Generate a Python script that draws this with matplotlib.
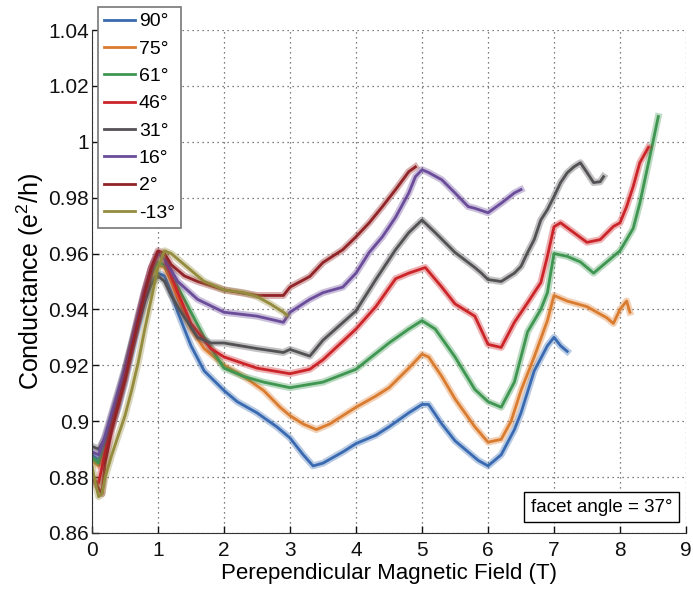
import matplotlib
matplotlib.use("Agg")
import matplotlib.pyplot as plt

plt.rcParams["font.family"] = ["Liberation Sans", "DejaVu Sans"]
plt.rcParams["mathtext.fontset"] = "custom"
plt.rcParams["mathtext.rm"] = "Liberation Sans"
plt.rcParams["mathtext.it"] = "Liberation Sans"

# Conductance vs perpendicular field, one trace per tilt angle
labels = ["90°", "75°", "61°", "46°", "31°", "16°", "2°", "-13°"]
colors = ["#396AB1", "#DA7C30", "#3E9651", "#CC2529",
          "#535154", "#6B4C9A", "#922428", "#948B3D"]

b_90 = [0, 0.1, 0.2, 0.3, 0.4, 0.5, 0.6, 0.7, 0.8, 0.9, 1.0, 1.1, 1.2, 1.3, 1.5, 1.7,
        2.0, 2.2, 2.5, 2.8, 3.0, 3.2, 3.35, 3.5, 3.8, 4.0, 4.3, 4.5, 4.8, 5.0, 5.1,
        5.3, 5.5, 5.7, 5.85, 6.0, 6.2, 6.4, 6.5, 6.7, 6.9, 7.0, 7.1, 7.2]
g_90 = [0.888, 0.886, 0.892, 0.898, 0.905, 0.914, 0.924, 0.934, 0.943, 0.950, 0.953,
        0.952, 0.946, 0.939, 0.927, 0.918, 0.911, 0.907, 0.903, 0.898, 0.894, 0.888,
        0.884, 0.885, 0.889, 0.892, 0.895, 0.898, 0.903, 0.906, 0.906, 0.899, 0.893,
        0.889, 0.886, 0.884, 0.888, 0.897, 0.903, 0.918, 0.927, 0.930, 0.927, 0.925]

b_75 = [0, 0.1, 0.2, 0.3, 0.4, 0.5, 0.6, 0.7, 0.8, 0.9, 1.0, 1.1, 1.2, 1.3, 1.5, 1.7,
        2.0, 2.3, 2.6, 2.85, 3.0, 3.2, 3.4, 3.6, 3.8, 4.0, 4.3, 4.5, 4.8, 5.0, 5.1,
        5.3, 5.5, 5.8, 6.0, 6.2, 6.35, 6.5, 6.7, 6.9, 7.0, 7.2, 7.5, 7.8, 7.9, 8.0,
        8.1, 8.15]
g_75 = [0.886, 0.884, 0.891, 0.899, 0.907, 0.916, 0.926, 0.936, 0.945, 0.952, 0.956,
        0.955, 0.950, 0.944, 0.933, 0.926, 0.920, 0.916, 0.911, 0.905, 0.902, 0.899,
        0.897, 0.899, 0.902, 0.905, 0.909, 0.912, 0.919, 0.924, 0.923, 0.916, 0.908,
        0.898, 0.8925, 0.8935, 0.900, 0.911, 0.923, 0.936, 0.945, 0.943, 0.941, 0.937,
        0.935, 0.940, 0.943, 0.939]

b_61 = [0, 0.1, 0.2, 0.3, 0.4, 0.5, 0.6, 0.7, 0.8, 0.9, 1.0, 1.1, 1.2, 1.3, 1.5, 1.7,
        2.0, 2.3, 2.6, 3.0, 3.5, 4.0, 4.5, 4.8, 5.0, 5.2, 5.5, 5.8, 6.0, 6.2, 6.4,
        6.5, 6.6, 6.8, 6.9, 7.0, 7.2, 7.4, 7.6, 7.8, 8.0, 8.2, 8.3, 8.4, 8.5, 8.58]
g_61 = [0.887, 0.885, 0.892, 0.901, 0.909, 0.918, 0.928, 0.937, 0.946, 0.953, 0.957,
        0.956, 0.953, 0.948, 0.939, 0.930, 0.919, 0.916, 0.914, 0.912, 0.914, 0.9186,
        0.928, 0.933, 0.936, 0.933, 0.923, 0.9114, 0.907, 0.905, 0.914, 0.923, 0.932,
        0.940, 0.946, 0.960, 0.959, 0.957, 0.953, 0.957, 0.961, 0.969, 0.978, 0.989,
        1.000, 1.009]

b_46 = [0, 0.1, 0.2, 0.3, 0.4, 0.5, 0.6, 0.7, 0.8, 0.9, 1.0, 1.1, 1.2, 1.3, 1.5, 1.8,
        2.0, 2.5, 3.0, 3.3, 3.5, 4.0, 4.3, 4.6, 4.8, 5.05, 5.3, 5.5, 5.8, 6.0, 6.2,
        6.4, 6.6, 6.8, 6.9, 7.0, 7.1, 7.3, 7.5, 7.7, 7.9, 8.0, 8.1, 8.2, 8.3, 8.43]
g_46 = [0.879, 0.878, 0.889, 0.899, 0.908, 0.917, 0.927, 0.937, 0.947, 0.955, 0.960,
        0.958, 0.952, 0.946, 0.935, 0.926, 0.923, 0.919, 0.917, 0.9186, 0.922, 0.933,
        0.941, 0.951, 0.953, 0.955, 0.948, 0.942, 0.9376, 0.9275, 0.9264, 0.9354,
        0.9424, 0.9496, 0.959, 0.9696, 0.971, 0.9675, 0.964, 0.965, 0.9697, 0.971,
        0.9768, 0.984, 0.9925, 0.998]

b_31 = [0, 0.1, 0.2, 0.3, 0.4, 0.5, 0.6, 0.7, 0.8, 0.9, 1.0, 1.1, 1.2, 1.35, 1.6, 1.8,
        2.0, 2.5, 2.9, 3.0, 3.3, 3.5, 4.0, 4.3, 4.6, 4.8, 5.0, 5.2, 5.5, 5.8, 5.9,
        6.0, 6.2, 6.4, 6.5, 6.6, 6.7, 6.8, 6.9, 7.0, 7.1, 7.2, 7.3, 7.4, 7.5, 7.6,
        7.7, 7.75]
g_31 = [0.891, 0.890, 0.894, 0.902, 0.910, 0.918, 0.927, 0.935, 0.943, 0.949, 0.952,
        0.950, 0.945, 0.939, 0.930, 0.928, 0.928, 0.926, 0.9246, 0.9257, 0.9233,
        0.929, 0.9395, 0.9507, 0.9614, 0.9675, 0.972, 0.9675, 0.9604, 0.955, 0.953,
        0.9507, 0.950, 0.953, 0.9554, 0.9604, 0.965, 0.972, 0.9757, 0.9804, 0.9854,
        0.9889, 0.991, 0.9925, 0.989, 0.9854, 0.9857, 0.9875]

b_16 = [0, 0.1, 0.2, 0.3, 0.4, 0.5, 0.6, 0.7, 0.8, 0.9, 1.0, 1.1, 1.3, 1.6, 2.0, 2.5,
        2.9, 3.0, 3.3, 3.5, 3.8, 4.0, 4.2, 4.4, 4.6, 4.8, 4.9, 5.0, 5.1, 5.3, 5.5,
        5.7, 5.8, 6.0, 6.2, 6.4, 6.5]
g_16 = [0.889, 0.888, 0.895, 0.903, 0.911, 0.919, 0.928, 0.938, 0.947, 0.955, 0.960,
        0.958, 0.950, 0.9436, 0.939, 0.9376, 0.9354, 0.939, 0.9436, 0.946, 0.948,
        0.953, 0.9604, 0.966, 0.973, 0.9817, 0.9875, 0.990, 0.989, 0.9864, 0.9817,
        0.9768, 0.9762, 0.9746, 0.978, 0.9817, 0.9829]

b_2 = [0, 0.1, 0.15, 0.2, 0.3, 0.4, 0.5, 0.6, 0.7, 0.8, 0.9, 1.0, 1.1, 1.2, 1.4, 1.6,
       2.0, 2.5, 2.9, 3.0, 3.3, 3.5, 3.8, 4.0, 4.2, 4.4, 4.6, 4.8, 4.9]
g_2 = [0.880, 0.876, 0.874, 0.885, 0.897, 0.906, 0.915, 0.926, 0.936, 0.946, 0.955,
       0.961, 0.960, 0.956, 0.952, 0.950, 0.947, 0.945, 0.945, 0.948, 0.9518, 0.9568,
       0.9614, 0.966, 0.971, 0.9768, 0.9829, 0.9893, 0.991]

b_m13 = [0, 0.05, 0.1, 0.15, 0.2, 0.3, 0.4, 0.5, 0.6, 0.7, 0.8, 0.9, 1.0, 1.1, 1.2,
         1.3, 1.5, 1.7, 2.0, 2.3, 2.5, 2.7, 2.9, 2.95]
g_m13 = [0.884, 0.878, 0.873, 0.874, 0.880, 0.888, 0.895, 0.902, 0.911, 0.921, 0.933,
         0.944, 0.955, 0.961, 0.960, 0.958, 0.954, 0.950, 0.947, 0.946, 0.9446, 0.942,
         0.939, 0.938]

fields = [b_90, b_75, b_61, b_46, b_31, b_16, b_2, b_m13]
conds = [g_90, g_75, g_61, g_46, g_31, g_16, g_2, g_m13]

x_ticks = [0, 1, 2, 3, 4, 5, 6, 7, 8, 9]
y_ticks = [0.86, 0.88, 0.90, 0.92, 0.94, 0.96, 0.98, 1.00, 1.02, 1.04]
y_tick_labels = ["0.86", "0.88", "0.9", "0.92", "0.94", "0.96", "0.98", "1", "1.02", "1.04"]

W, H = 693, 590
fig = plt.figure(figsize=(W / 100, H / 100), dpi=100)
ax = fig.add_axes([92 / W, 1 - 533 / H, 594 / W, 503 / H])

for b, g, c, lab in zip(fields, conds, colors, labels):
    # soft halo gives the band width of the noisy trace
    ax.plot(b, g, color=c, lw=5, alpha=0.35, solid_joinstyle="round")
    ax.plot(b, g, color=c, lw=2.0, label=lab)

ax.set_xlim(0, 9)
ax.set_ylim(0.86, 1.04)
ax.set_xticks(x_ticks)
ax.set_xticklabels([str(t) for t in x_ticks])
ax.set_yticks(y_ticks)
ax.set_yticklabels(y_tick_labels)
ax.grid(True, linestyle=(0, (1, 3)), color="#555555", lw=0.9)
ax.set_axisbelow(True)
for s in ("top", "right"):
    ax.spines[s].set_visible(False)
for s in ("left", "bottom"):
    ax.spines[s].set_color("#333333")
ax.tick_params(direction="in", length=5, width=1, labelsize=15, colors="#111111")
ax.tick_params(axis="y", pad=2)
ax.tick_params(axis="x", pad=6)

ax.set_xlabel("Perependicular Magnetic Field (T)", fontsize=16, labelpad=2)
ax.set_ylabel("Conductance (e$^2$/h)", fontsize=18, labelpad=2)

leg = ax.legend(loc="upper left", bbox_to_anchor=(98 / W, 1 - 7 / H),
                bbox_transform=fig.transFigure, fancybox=False, framealpha=1,
                edgecolor="#777777", fontsize=14, handlelength=1.6,
                handletextpad=0.2, labelspacing=0.5, borderpad=0.3, borderaxespad=0)
leg.get_frame().set_linewidth(1.2)
for h in leg.get_lines():
    h.set_linewidth(2.0)

ax.text(0.977, 0.034, "facet angle = 37°", transform=ax.transAxes, ha="right",
        va="bottom", fontsize=13.5,
        bbox=dict(boxstyle="square,pad=0.35", fc="white", ec="black", lw=1))

fig.savefig("out.png", dpi=100)
